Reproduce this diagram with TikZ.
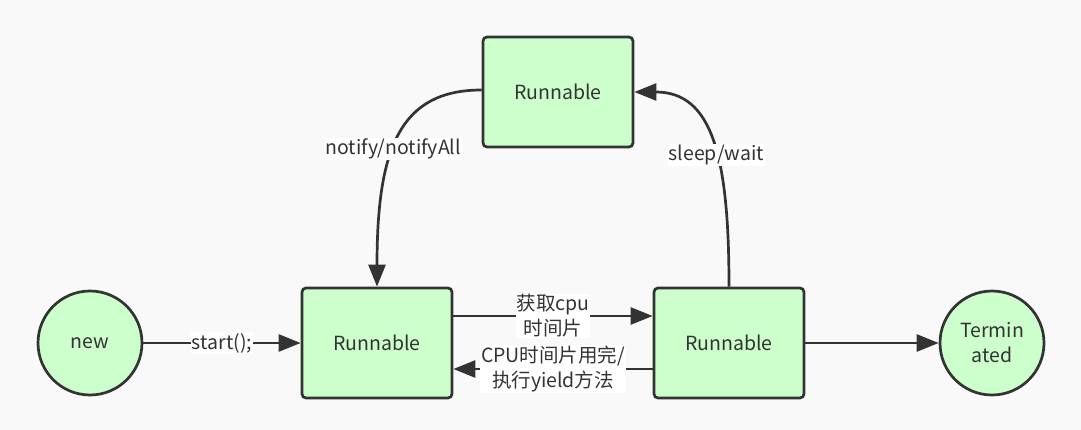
\documentclass[tikz,border=0pt]{standalone}
\usepackage{fontspec}
\setmainfont{Noto Sans CJK SC}
\usetikzlibrary{arrows.meta}
\definecolor{bg}{HTML}{F9F9F9}
\definecolor{nodefill}{HTML}{CCFFCC}
\definecolor{ink}{HTML}{333333}
\tikzset{
  statebox/.style={draw=ink, fill=nodefill, line width=2.7pt, rounded corners=4pt,
    minimum width=150pt, minimum height=110pt, inner sep=0pt, text=ink,
    font=\fontsize{19.5}{25}\selectfont},
  statecirc/.style={draw=ink, fill=nodefill, line width=2.7pt, circle,
    minimum size=104pt, inner sep=0pt, text=ink, align=center,
    font=\fontsize{19.5}{25}\selectfont},
  conn/.style={draw=ink, line width=2.7pt, -{Triangle[length=22pt,width=17pt]}},
  lbl/.style={fill=white, inner sep=1pt, text=ink, align=center,
    font=\fontsize{19.5}{25}\selectfont}
}
\begin{document}
\begin{tikzpicture}[x=1pt,y=-1pt]
\fill[bg] (0,0) rectangle (1081,430);
\useasboundingbox (0,0) rectangle (1081,430);
\node[statecirc] (new) at (90,343) {new};
\node[statebox] (r1) at (377,343) {Runnable};
\node[statebox] (r2) at (729,343) {Runnable};
\node[statebox] (r3) at (558,92) {Runnable};
\node[statecirc] (term) at (992,343) {Termin\\ated};

\draw[conn] (new.east) -- node[lbl] {start();} (r1.west);
\draw[conn] ([yshift=27pt]r1.east) -- node[lbl] {获取cpu\\时间片} ([yshift=27pt]r2.west);
\draw[conn] ([yshift=-26pt]r2.west) -- node[lbl] {CPU时间片用完/\\执行yield方法} ([yshift=-26pt]r1.east);
\draw[conn] (r2.east) -- (term.west);
\draw[conn] ([yshift=2pt]r3.west) .. controls +(-82,0) and +(0,-138) .. (r1.north)
  node[lbl, pos=0.56] {notify/notifyAll};
\draw[conn] (r2.north) .. controls +(0,-130) and +(78,0) .. (r3.east)
  node[lbl, pos=0.43] {sleep/wait};
\end{tikzpicture}
\end{document}
